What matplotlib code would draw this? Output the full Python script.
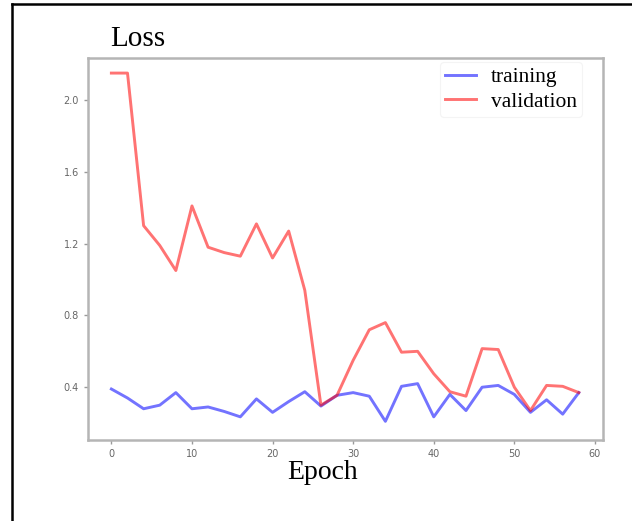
import matplotlib
matplotlib.use("Agg")
import matplotlib.pyplot as plt
from matplotlib.lines import Line2D

# loss per epoch (logged every 2 epochs)
epochs = list(range(0, 60, 2))
training = [0.39, 0.34, 0.28, 0.30, 0.37, 0.28, 0.29, 0.265, 0.235, 0.335,
            0.26, 0.32, 0.375, 0.295, 0.355, 0.37, 0.35, 0.21, 0.405, 0.42,
            0.235, 0.36, 0.27, 0.40, 0.41, 0.36, 0.26, 0.33, 0.25, 0.37]
validation = [2.15, 2.15, 1.30, 1.19, 1.05, 1.41, 1.18, 1.15, 1.13, 1.31,
              1.12, 1.27, 0.94, 0.30, 0.355, 0.55, 0.72, 0.76, 0.595, 0.60,
              0.475, 0.375, 0.35, 0.615, 0.61, 0.40, 0.27, 0.41, 0.405, 0.37]
xticks = [0, 10, 20, 30, 40, 50, 60]
yticks = [0.4, 0.8, 1.2, 1.6, 2.0]

W, H = 632, 521
fig = plt.figure(figsize=(W / 100, H / 100), dpi=100)
ax = fig.add_axes([88 / W, 1 - 440 / H, (603 - 88) / W, (440 - 58) / H])

ax.plot(epochs, training, color="blue", alpha=0.55, lw=2.1, label="training")
ax.plot(epochs, validation, color="red", alpha=0.55, lw=2.1, label="validation")

ax.set_xlim(-2.9, 61.0)
ax.set_ylim(0.106, 2.234)
ax.set_xticks(xticks)
ax.set_yticks(yticks)
ax.set_xticklabels([str(t) for t in xticks])
ax.set_yticklabels([f"{t:.1f}" for t in yticks])
ax.tick_params(labelsize=7, colors="#9a9a9a", labelcolor="#666666", length=3, width=1)

for sp in ax.spines.values():
    sp.set_color("#b5b5b5")
    sp.set_linewidth(1.8)

serif = ["Liberation Serif", "DejaVu Serif"]
leg = ax.legend(loc="upper right", bbox_to_anchor=(582 / W, 1 - 62 / H),
                bbox_transform=fig.transFigure, borderaxespad=0,
                prop={"family": serif, "size": 15.5}, handlelength=1.4,
                handletextpad=0.7, labelspacing=0.2, borderpad=0.25,
                fancybox=True, framealpha=1)
leg.get_frame().set_edgecolor("#f4f4f4")
leg.get_frame().set_linewidth(0.8)

fig.text(110 / W, 1 - 46 / H, "Loss", family=serif, fontsize=21, va="baseline")
fig.text(287 / W, 1 - 479 / H, "Epoch", family=serif, fontsize=20, va="baseline")

# black frame round the picture (left and top only)
fig.add_artist(Line2D([12 / W, 12 / W], [0, 1 - 4 / H], color="black", lw=1.8))
fig.add_artist(Line2D([12 / W, 1], [1 - 4 / H, 1 - 4 / H], color="black", lw=1.8))

fig.savefig("out.png", dpi=100)
